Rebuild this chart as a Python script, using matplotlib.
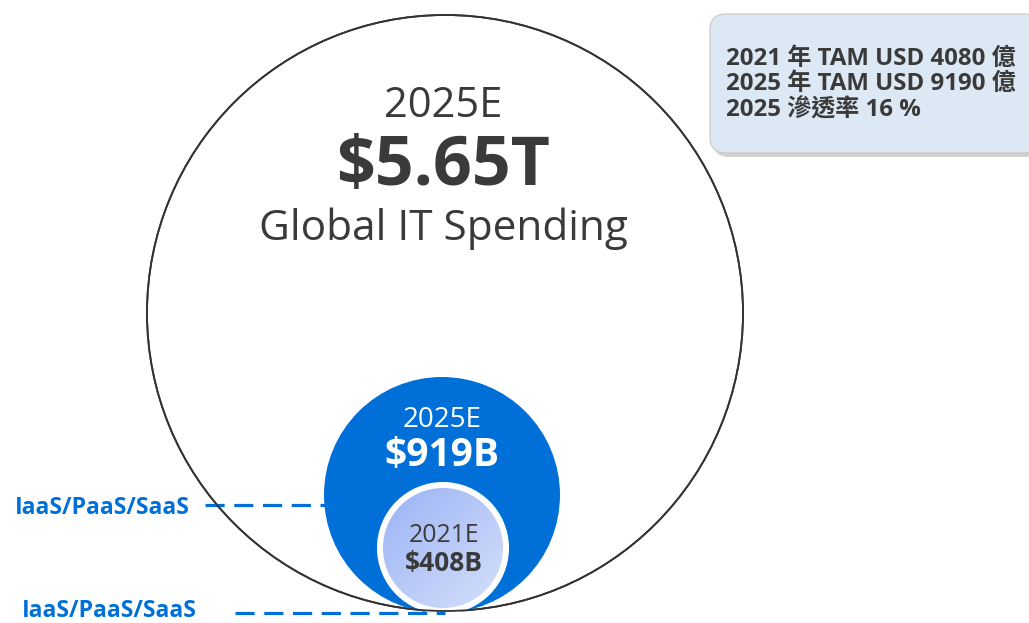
import numpy as np
import matplotlib.pyplot as plt
from matplotlib.patches import Circle, FancyBboxPatch
from matplotlib.colors import LinearSegmentedColormap

plt.rcParams['font.family'] = ['Open Sans', 'Noto Sans CJK TC', 'DejaVu Sans']

# values shown in the picture
years = ["2025E", "2025E", "2021E"]
values = ["$5.65T", "$919B", "$408B"]
big_label = "Global IT Spending"
segment = "IaaS/PaaS/SaaS"
note_lines = ["2021 年 TAM USD 4080 億",
              "2025 年 TAM USD 9190 億",
              "2025 滲透率 16 %"]

dark = "#3a3a3a"
blue = "#0070d8"

fig = plt.figure(figsize=(10.29, 6.23), dpi=100)
ax = fig.add_axes([0, 0, 1, 1])
ax.set_xlim(0, 1029)
ax.set_ylim(623, 0)
ax.set_aspect("equal")
ax.axis("off")

# big circle
ax.add_patch(Circle((445, 313), 298, fill=False, ec="#333333", lw=1.3, zorder=1))

# blue circle
ax.add_patch(Circle((442, 495), 118, fc=blue, ec="none", zorder=2))

# small circle with gradient and white ring
ax.add_patch(Circle((443, 548), 66, fc="white", ec="none", zorder=3))
inner = Circle((443, 548), 60, fc="none", ec="none", zorder=4)
ax.add_patch(inner)
gx, gy = np.meshgrid(np.linspace(0, 1, 100), np.linspace(0, 1, 100))
grad = (gx + gy) / 2
cmap = LinearSegmentedColormap.from_list("g", ["#9bb3f4", "#d6e0fb"])
im = ax.imshow(grad, cmap=cmap, extent=(383, 503, 608, 488), zorder=4)
im.set_clip_path(inner)

# redraw big circle outline over the small circles
ax.add_patch(Circle((445, 313), 298, fill=False, ec="#333333", lw=1.3, zorder=5))

# texts in big circle
ax.text(443, 106, years[0], ha="center", va="center", fontsize=30, color=dark)
ax.text(443, 167, values[0], ha="center", va="center", fontsize=49, color=dark, fontweight="bold")
ax.text(443, 229, big_label, ha="center", va="center", fontsize=30.5, color=dark)

# blue circle text
ax.text(442, 420, years[1], ha="center", va="center", fontsize=20, color="white")
ax.text(442, 455, values[1], ha="center", va="center", fontsize=28, color="white", fontweight="bold")

# small circle text
ax.text(444, 536, years[2], ha="center", va="center", fontsize=17.8, color=dark, zorder=6)
ax.text(444, 564, values[2], ha="center", va="center", fontsize=19, color=dark, fontweight="bold", zorder=6)

# labels with dashed leaders
ax.text(15, 508, segment, ha="left", va="center", fontsize=16.6, color=blue, fontweight="bold")
ax.plot([205, 325], [505, 505], color=blue, lw=2.3, ls=(0, (6, 3)), zorder=1)
ax.text(22, 611, segment, ha="left", va="center", fontsize=16.6, color=blue, fontweight="bold")
ax.plot([235, 445], [613, 613], color=blue, lw=2.3, ls=(0, (6, 3)), zorder=6)

# note box with shadow
ax.add_patch(FancyBboxPatch((713, 18), 330, 139, boxstyle="round,pad=0,rounding_size=16",
                            fc="#b5b5b5", ec="none", alpha=0.6, zorder=6))
ax.add_patch(FancyBboxPatch((710, 14), 330, 139, boxstyle="round,pad=0,rounding_size=16",
                            fc="#dde8f5", ec="#c8c8c8", lw=0.8, zorder=7))
for i, line in enumerate(note_lines):
    ax.text(726, 59 + i * 25.5, line, ha="left", va="center", fontsize=17.3,
            color=dark, fontweight="bold", zorder=8)

fig.savefig("out.png", dpi=100)
